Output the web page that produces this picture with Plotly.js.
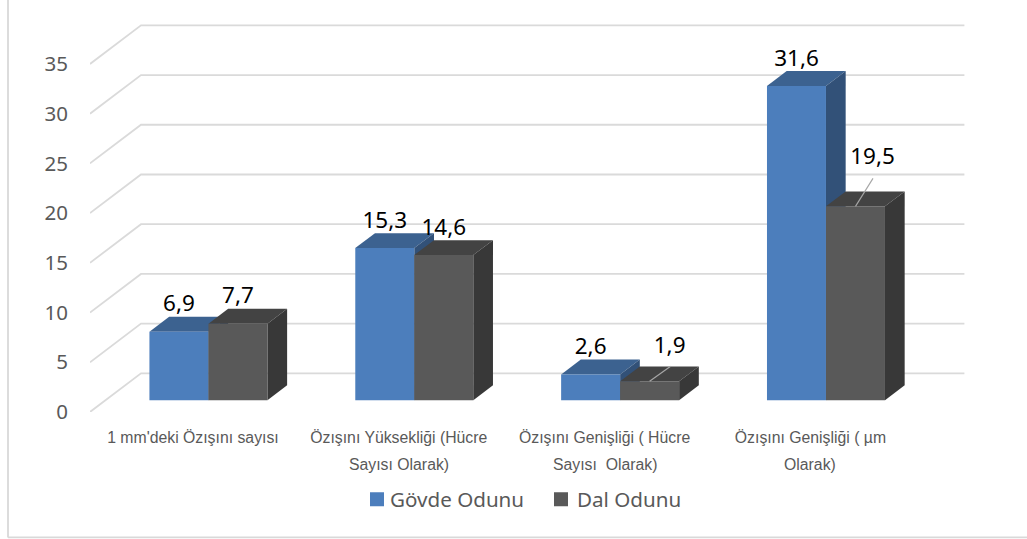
<!DOCTYPE html>
<html><head><meta charset="utf-8">
<script src="https://cdn.plot.ly/plotly-3.0.1.min.js"></script>
<style>html,body{margin:0;padding:0;background:#fff;overflow:hidden}#c{width:1027px;height:539px}</style>
</head><body><div id="c"></div>
<script>
var labelLine1 = ["1 mm'deki Özışını sayısı", "Özışını Yüksekliği (Hücre", "Özışını Genişliği ( Hücre", "Özışını Genişliği ( µm"];
var labelLine2 = ["", "Sayısı Olarak)", "Sayısı  Olarak)", "Olarak)"];
var govde = [6.9, 15.3, 2.6, 31.6];
var dal = [7.7, 14.6, 1.9, 19.5];
var yTicks = [0, 5, 10, 15, 20, 25, 30, 35];
var catIdx = [0, 1, 2, 3];

var W = 1027, H = 539;
var L = 90, R = 990, T = 10, B = 411.7;
var pxX = 823.4 / 4, pxY = 347.8 / 35;
var xMax = -0.5 + (R - L) / pxX, yMax = (B - T) / pxY;
var wallDX = 51 / pxX, wallDY = 38.6 / pxY;      // depth vector of the floor, in axis units
var d0 = 0.304, d1 = 0.69, barW = 59 / pxX;
var C = {blue:'#4C7EBC', blueTop:'#3C6290', blueSide:'#325178', grey:'#595959', greyTop:'#434343', greySide:'#383838'};

function P(x, v, d) { return [x + d * wallDX, v + d * wallDY]; }
function poly(pts, color, name) {
  return {type:'scatter', mode:'lines', x:pts.map(function(p){return p[0];}), y:pts.map(function(p){return p[1];}),
    fill:'toself', fillcolor:color, line:{width:0, color:color}, cliponaxis:false, showlegend:false, hoverinfo:'skip', name:name};
}
function box(xa, xb, v, colors, name) {
  return [
    poly([P(xa,v,d0),P(xb,v,d0),P(xb,v,d1),P(xa,v,d1)], colors[1], name),
    poly([P(xb,0,d0),P(xb,v,d0),P(xb,v,d1),P(xb,0,d1)], colors[2], name),
    poly([P(xa,0,d0),P(xb,0,d0),P(xb,v,d0),P(xa,v,d0)], colors[0], name)
  ];
}
var traces = [];
yTicks.forEach(function(v){
  var a = P(-0.5,v,0), b = P(-0.5,v,1), c = P(3.5,v,1);
  traces.push({type:'scatter', mode:'lines', x:[a[0],b[0],c[0]], y:[a[1],b[1],c[1]], line:{color:'#DADADA', width:1.8},
    cliponaxis:false, showlegend:false, hoverinfo:'skip'});
});
catIdx.forEach(function(i){ traces = traces.concat(box(i-barW, i, govde[i], [C.blue,C.blueTop,C.blueSide], 'Gövde Odunu')); });
catIdx.forEach(function(i){ traces = traces.concat(box(i, i+barW, dal[i], [C.grey,C.greyTop,C.greySide], 'Dal Odunu')); });

// leader lines for the two displaced labels
function leader(i, v, dx, dv) {
  var a = P(i + barW/2, v, d0);
  traces.push({type:'scatter', mode:'lines', x:[a[0], a[0]+dx], y:[a[1], a[1]+dv], line:{color:'#A6A6A6', width:1.2},
    cliponaxis:false, showlegend:false, hoverinfo:'skip'});
}
leader(2, dal[2], 21/pxX, 15/pxY);
leader(3, dal[3], 17.5/pxX, 28/pxY);

var labelDX = {dal2: 20/pxX, dal3: 17/pxX};
function labels(vals, sign) {
  var xs = [], ys = [], ts = [];
  vals.forEach(function(v,i){
    var p = P(i + sign*barW/2, v, d0), dx = 0, up = 26;
    if (sign > 0 && i === 2) { dx = labelDX.dal2; up = 34; }
    if (sign > 0 && i === 3) { dx = labelDX.dal3; up = 48; }
    xs.push(p[0]+dx); ys.push(p[1]+up/pxY); ts.push(String(v).replace('.',','));
  });
  traces.push({type:'scatter', mode:'text', x:xs, y:ys, text:ts, textposition:'middle center',
    textfont:{family:'Noto Sans', size:22.5, color:'#000'}, cliponaxis:false, showlegend:false, hoverinfo:'skip'});
}
labels(govde, -1); labels(dal, 1);

// legend entries
traces.push({type:'scatter', mode:'markers', x:[null], y:[null], name:'Gövde Odunu', marker:{symbol:'square', size:14, color:C.blue}});
traces.push({type:'scatter', mode:'markers', x:[null], y:[null], name:'Dal Odunu', marker:{symbol:'square', size:14, color:C.grey}});

var annotations = labelLine2.map(function(t,i){
  return {xref:'x', yref:'paper', x:i, y:0, text:t, showarrow:false, yshift:-52.3, xanchor:'center', yanchor:'middle',
    font:{family:'Liberation Sans', size:15.8, color:'#595959'}};
});
function px(x){return (x-L)/(R-L);} function py(y){return (B-y)/(B-T);}
var layout = {
  width:W, height:H, margin:{l:L, r:W-R, t:T, b:H-B, pad:0}, paper_bgcolor:'#fff', plot_bgcolor:'rgba(0,0,0,0)',
  showlegend:true,
  legend:{orientation:'h', x:px(350), y:py(499), xanchor:'left', yanchor:'middle', entrywidth:142, entrywidthmode:'pixels',
    font:{family:'Noto Sans', size:20.6, color:'#595959'}, bgcolor:'rgba(0,0,0,0)', traceorder:'normal'},
  xaxis:{range:[-0.5,xMax], tickmode:'array', tickvals:catIdx, ticktext:labelLine1, ticks:'outside', ticklen:11, tickcolor:'rgba(0,0,0,0)',
    showgrid:false, zeroline:false, showline:false, tickangle:0, tickfont:{family:'Liberation Sans', size:15.8, color:'#595959'}},
  yaxis:{range:[0,yMax], tickmode:'array', tickvals:yTicks, ticktext:yTicks.map(String), ticks:'outside', ticklen:17, tickcolor:'rgba(0,0,0,0)',
    showgrid:false, zeroline:false, showline:false, tickfont:{family:'Noto Sans', size:20.5, color:'#595959'}},
  annotations:annotations,
  shapes:[
    {type:'line', xref:'paper', yref:'paper', x0:px(8), x1:px(8), y0:py(0), y1:py(537), line:{color:'#D9D9D9', width:1.8}, layer:'below'},
    {type:'line', xref:'paper', yref:'paper', x0:px(8), x1:px(1027), y0:py(537), y1:py(537), line:{color:'#D9D9D9', width:1.8}, layer:'below'}
  ]
};
Plotly.newPlot('c', traces, layout, {displayModeBar:false, responsive:false}).then(function(gd){
  var shift = [7, 4];
  gd.querySelectorAll('.legendsymbols').forEach(function(g, i){ g.setAttribute('transform','translate(' + shift[i] + ',0)'); });
});
</script></body></html>
